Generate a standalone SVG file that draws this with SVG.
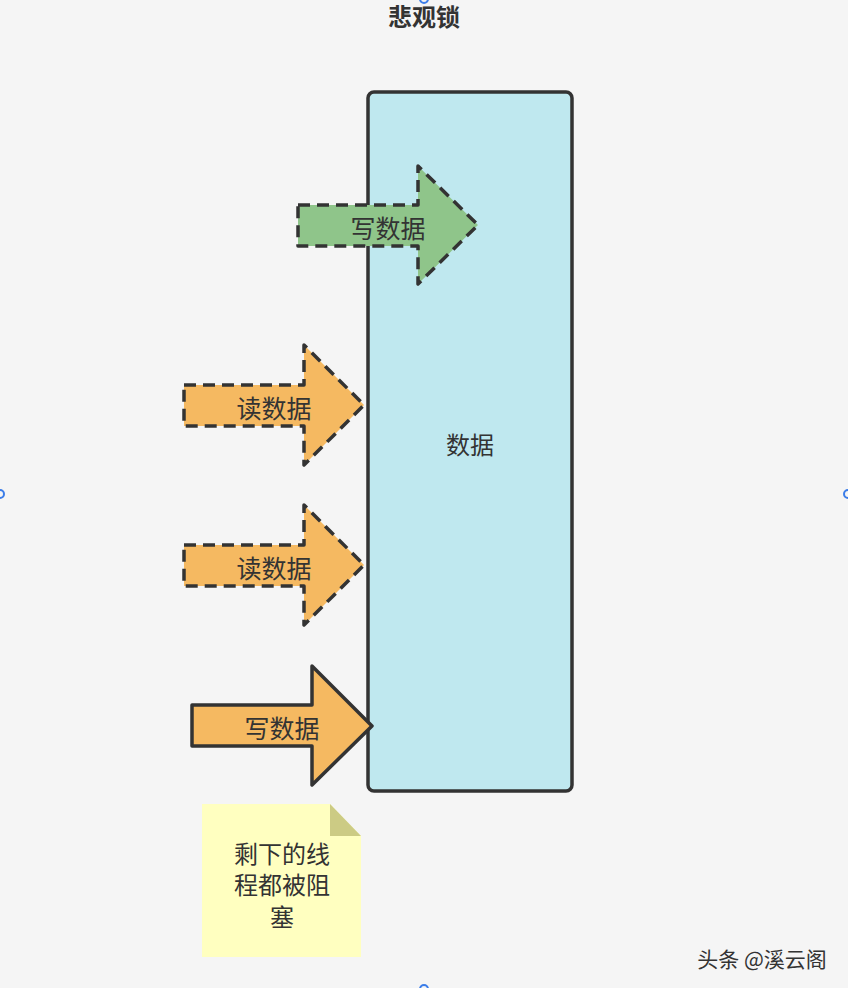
<svg xmlns="http://www.w3.org/2000/svg" width="848" height="988" viewBox="0 0 848 988">
<style>
.t{font-family:"Noto Sans CJK SC","Noto Sans",sans-serif;fill:#333;text-anchor:middle;dominant-baseline:central}
.arr{stroke:#333;stroke-width:3.5;stroke-linejoin:round}
.dash{stroke-dasharray:12 7}
.h{fill:none;stroke:#3b7de9;stroke-width:2}
</style>
<rect width="848" height="988" fill="#f5f5f5"/>
<text class="t" x="424" y="15" font-size="24" font-weight="bold">悲观锁</text>
<g id="data">
<rect x="368" y="92" width="204" height="699" rx="6" fill="#bfe8ef" stroke="#333" stroke-width="3.5"/>
<text class="t" x="470" y="443" font-size="24">数据</text>
</g>
<g id="connectors">
<g id="write1">
<path class="arr dash" d="M298 205 H418 V166 L478 225 L418 284 V246 H298 Z" fill="#8fc58a"/>
<text class="t" x="388" y="227" font-size="25">写数据</text>
</g>
<g id="read1">
<path class="arr dash" d="M184 385 H304 V345 L364 405 L304 465 V426 H184 Z" fill="#f5b961"/>
<text class="t" x="274" y="407" font-size="25">读数据</text>
</g>
<g id="read2">
<path class="arr dash" d="M184 545 H304 V505 L364 565 L304 625 V586 H184 Z" fill="#f5b961"/>
<text class="t" x="274" y="567" font-size="25">读数据</text>
</g>
<g id="write2">
<path class="arr" d="M192 705 H312 V666 L372 726 L312 785 V746 H192 Z" fill="#f5b961"/>
<text class="t" x="282" y="727" font-size="25">写数据</text>
</g>
</g>
<g id="note">
<path d="M202 804 H330 L361 836 V957 H202 Z" fill="#ffffc0"/>
<path d="M330 804 L361 836 H330 Z" fill="#cccb84"/>
<text class="t" x="282" y="852" font-size="24">剩下的线</text>
<text class="t" x="282" y="883.5" font-size="24">程都被阻</text>
<text class="t" x="282" y="915" font-size="24">塞</text>
</g>
<text class="t" x="762" y="958" font-size="21">头条 @溪云阁</text>
<circle class="h" cx="0" cy="494" r="4"/>
<circle class="h" cx="848" cy="494" r="4"/>
<circle class="h" cx="424" cy="-1" r="4"/>
<circle class="h" cx="424" cy="989" r="4"/>
</svg>
